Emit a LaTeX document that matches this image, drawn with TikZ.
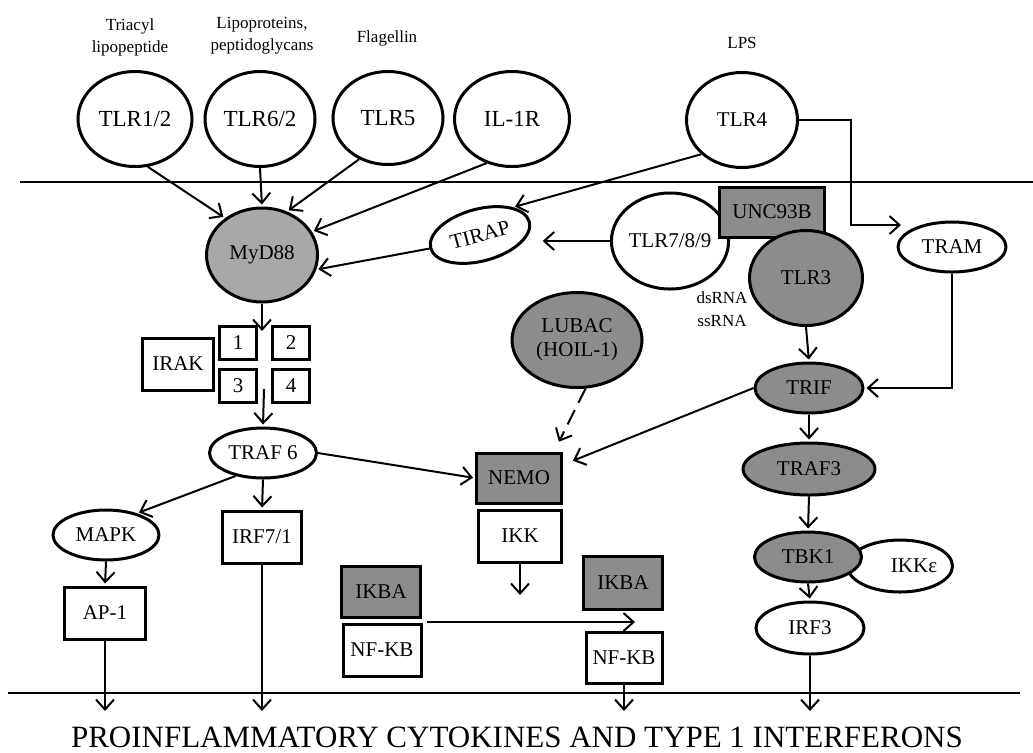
\documentclass[tikz,border=0pt]{standalone}
\usepackage{fontspec}
\setmainfont{Liberation Serif}
\usetikzlibrary{shapes.geometric,arrows.meta}
\definecolor{darkfill}{gray}{0.55}
\definecolor{lightfill}{gray}{0.66}

\begin{document}
\begin{tikzpicture}[x=0.5pt, y=-0.5pt,
    sz/.style n args={2}{minimum width=#1*0.5pt, minimum height=#2*0.5pt},
    recep/.style={ellipse, draw, line width=1.5pt, fill=white, inner sep=0pt, font=\fontsize{10.5}{12}\selectfont},
    protbox/.style={rectangle, draw, line width=1.5pt, fill=white, inner sep=0pt, font=\fontsize{10.5}{12}\selectfont},
    shaded/.style={fill=darkfill},
    arr/.style={-{Straight Barb[length=5pt,width=9pt]}, line width=1pt, shorten >=1pt},
    ligand/.style={font=\fontsize{8.5}{11}\selectfont, align=center}]
    \useasboundingbox (0,0) rectangle (1033,752);

    % Membranes
    \draw[line width=1pt] (20,182) -- (1033,182);
    \draw[line width=1pt] (8,693) -- (1020,693);

    % Ligands
    \node[ligand] (triacyl) at (130,37) {Triacyl\\lipopeptide};
    \node[ligand] (lipo) at (262,36) {Lipoproteins,\\peptidoglycans};
    \node[ligand] (flag) at (387,38) {Flagellin};
    \node[ligand] (lps) at (742,43) {LPS};

    % Surface receptors
    \node[recep, sz={114}{95}, font=\fontsize{11.5}{13}\selectfont] (tlrA) at (135,119) {TLR1/2};
    \node[recep, sz={110}{95}, font=\fontsize{11.5}{13}\selectfont] (tlrB) at (260,119) {TLR6/2};
    \node[recep, sz={110}{93}, font=\fontsize{11.5}{13}\selectfont] (tlrC) at (388,118) {TLR5};
    \node[recep, sz={115}{95}, font=\fontsize{11.5}{13}\selectfont] (ilr) at (512,119) {IL-1R};
    \node[recep, sz={111}{95}] (tlrD) at (742,120) {TLR4};

    % MyD88 branch
    \node[recep, sz={111}{94}, fill=lightfill] (myd) at (262,255) {MyD88};
    \node[recep, sz={102}{52}, rotate=15] (tirap) at (480,235) {TIRAP};
    \node[protbox, sz={71}{52}] (irak) at (178,364) {IRAK};
    \node[protbox, sz={37}{33}] (k1) at (238,343) {1};
    \node[protbox, sz={37}{33}] (k2) at (291,343) {2};
    \node[protbox, sz={37}{33}] (k3) at (238,386) {3};
    \node[protbox, sz={37}{33}] (k4) at (291,386) {4};
    \coordinate (irakin) at (262,333);
    \coordinate (irakout) at (264,389);
    \node[recep, sz={107}{50}] (traf6) at (263,453) {TRAF 6};
    \node[recep, sz={106}{50}] (mapk) at (106,535) {MAPK};
    \node[protbox, sz={81}{52}] (ap1) at (105,613) {AP-1};
    \node[protbox, sz={79}{52}] (irf71) at (262,537) {IRF7/1};

    % Endosomal receptors
    \node[recep, sz={100}{96}] (tlrE) at (670,241) {TLR7/8/9};
    \node[protbox, shaded, sz={105}{50}] (unc) at (772,212) {UNC93B};
    \node[recep, shaded, sz={113}{95}] (tlrF) at (806,278) {TLR3};
    \node[ligand, font=\fontsize{8.5}{11.5}\selectfont] (rna) at (722,309) {dsRNA\\ssRNA};

    % TRIF branch
    \node[recep, sz={108}{50}] (tram) at (952,247) {TRAM};
    \node[recep, shaded, sz={108}{50}] (trif) at (809,388) {TRIF};
    \node[recep, shaded, sz={132}{52}] (traf3) at (809,469) {TRAF3};
    \node[recep, sz={105}{52}] (ikke) at (900,566) {\hspace*{14pt}IKKε};
    \node[recep, shaded, sz={107}{50}] (tbk) at (808,557) {TBK1};
    \node[recep, sz={108}{52}] (irf3) at (810,628) {IRF3};

    % NF-KB branch
    \node[recep, shaded, sz={130}{95}, align=center] (lubac) at (577,340) {LUBAC\\(HOIL-1)};
    \node[protbox, shaded, sz={85}{50}] (nemo) at (519,478) {NEMO};
    \node[protbox, sz={83}{52}] (ikk) at (520,536) {IKK};
    \node[protbox, shaded, sz={79}{51}] (ikbaL) at (381,592) {IKBA};
    \node[protbox, sz={78}{52}] (nfkbL) at (382,650) {NF-KB};
    \node[protbox, shaded, sz={79}{53}] (ikbaR) at (623,583) {IKBA};
    \node[protbox, sz={76}{51}] (nfkbR) at (624,658) {NF-KB};
    \coordinate (ikkout) at (520,597);
    \coordinate (shiftout) at (427,622);
    \coordinate (shiftin) at (637,622);
    \coordinate (bend) at (851,225);
    \coordinate (tramin) at (903,225);
    \coordinate (outlvl) at (0,713);

    % Connectors into MyD88
    \draw[arr] (tlrA.-75) -- (myd.135);
    \draw[arr] (tlrB.south) -- (myd.north);
    \draw[arr] (tlrC.235) -- (myd.60);
    \draw[arr] (ilr.240) -- (myd.25);
    \draw[arr] (tirap.west) -- (myd.-15);
    \draw[arr] (tlrD.220) -- (tirap.25);
    \draw[arr] (tlrE.west) -- ([xshift=5pt]tlrE.west -| tirap.east);
    \draw[arr] (myd.south) -- (irakin);
    \draw[arr] (irakout) -- (traf6.north);
    \draw[arr] (traf6.-140) -- (mapk.35);
    \draw[arr] (traf6.south) -- (irf71.north);
    \draw[arr] (mapk.south) -- (ap1.north);
    \draw[arr] (traf6.east) -- (nemo.west);

    % TRIF side
    \draw[arr] (tlrD.east) -| (bend) -- (tramin);
    \draw[arr] (tram.south) |- (trif.east);
    \draw[arr] (tlrF.south) -- (trif.north);
    \draw[arr] (trif.west) -- ([shift={(8,10)}]nemo.north east);
    \draw[arr, dashed, dash pattern=on 8pt off 4pt] (lubac.-80) -- ([shift={(-5,-8)}]nemo.north east);
    \draw[arr] (trif.south) -- (traf3.north);
    \draw[arr] (traf3.south) -- (tbk.north);
    \draw[arr] (tbk.south) -- (irf3.north);

    % NF-KB release
    \draw[arr] (ikk.south) -- (ikkout);
    \draw[arr] (shiftout) -- (shiftin);

    % Outputs
    \draw[arr] (ap1.south) -- (ap1.south |- outlvl);
    \draw[arr] (irf71.south) -- (irf71.south |- outlvl);
    \draw[arr] (nfkbR.south) -- (nfkbR.south |- outlvl);
    \draw[arr] (irf3.south) -- (irf3.south |- outlvl);

    \node[font=\fontsize{15.5}{17}\selectfont, anchor=base, inner sep=0pt] (output) at (517,747) {PROINFLAMMATORY CYTOKINES AND TYPE 1 INTERFERONS};
\end{tikzpicture}
\end{document}
